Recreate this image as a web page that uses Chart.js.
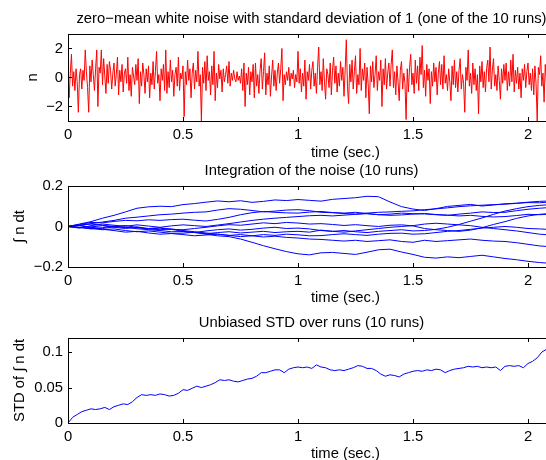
<!DOCTYPE html>
<html lang="en">
<head>
  <meta charset="UTF-8">
  <title>White noise, its integration and STD</title>
  <script src="https://cdn.jsdelivr.net/npm/chart.js"></script>
  <style>
    html, body {
      margin: 0;
      padding: 0;
      width: 546px;
      height: 460px;
      overflow: hidden;
      background: #ffffff;
    }
    canvas {
      position: absolute;
      left: 0;
    }
    #noiseChart { top: 0; }
    #integralChart { top: 160px; }
    #stdChart { top: 310px; }
  </style>
</head>
<body>

  <canvas id="noiseChart" width="623" height="165"></canvas>
  <canvas id="integralChart" width="623" height="150"></canvas>
  <canvas id="stdChart" width="623" height="160"></canvas>

  <script>
    // time axis (sec.)
    const xTicks = [0, 0.5, 1, 1.5, 2];
    const xTickLabels = ['0', '0.5', '1', '1.5', '2'];
    const xMax = 2.413;

    // top: one run of the white noise, sampled every 5 ms
    const noiseDt = 0.005;
    const noise = [
      0.1, -1.4, 0.3, 1.6, -0.6, 0.4, -0.9, 0.6, -0.3, -2.4, 0.2, 0.6, -0.8, 0.5, -0.2, 1.9, 0.4, -0.7, -2.4, 0.8,
      -0.3, 1.2, 0.2, -0.9, 0.6, 1.9, -2.0, 0.7, 0.3, 1.9, -0.5, 1.3, 0.1, -1.1, 0.9, -0.4, 1.1, 0.5, -0.8, 0.3,
      1.0, -0.6, 0.2, 1.4, -1.2, 0.5, -0.3, 0.9, -1.0, 0.3, 0.6, -0.4, 1.4, -0.9, 0.2, -1.3, 0.7, 0.1, -0.5, 0.9,
      -0.2, 1.3, -1.8, 0.4, -0.6, 1.0, 0.2, -1.1, 0.6, -0.3, 0.8, -1.4, 0.3, -0.5, 1.1, -0.8, 0.4, 1.8, -0.4, 0.2,
      -1.6, 0.6, -0.2, 0.9, -0.9, 1.9, -1.1, 0.4, -0.7, 1.2, -0.3, 0.5, -1.3, 0.2, 0.7, -0.6, 1.4, -0.9, 0.3, -0.1,
      0.8, -2.7, 0.4, -0.5, 1.2, -0.2, 0.6, -1.4, 0.3, 1.0, -0.8, 0.5, -0.3, 1.8, -0.6, 0.2, -3.0, 0.7, -0.4, 1.1,
      -0.9, 1.5, -0.2, 0.4, -1.2, 0.8, -0.5, 1.8, -1.6, 0.3, -0.7, 0.9, -0.1, 0.5, -1.0, 0.6, -0.3, 0.2, 0.8, -0.4,
      1.1, -0.6, 0.3, -0.2, 0.5, -0.1, -0.3, 0.4, -0.2, 0.1, -0.4, 0.6, -0.9, 1.0, -2.0, 0.3, -0.5, 0.7, -1.2, 0.4,
      -0.3, 0.9, -1.4, 1.0, -0.6, 0.2, -1.1, 0.5, 1.3, -0.8, 0.4, 1.7, -1.2, 0.3, -0.5, 0.8, -1.3, 0.1, 1.2, -0.6,
      0.5, -0.9, 0.3, 1.0, -0.4, 0.6, 2.0, -1.6, 0.2, -0.5, 0.4, -0.2, 0.7, -0.6, 0.3, -0.1, 0.5, -0.7, 0.2, -0.3,
      1.8, -0.4, 0.6, -1.0, 0.3, -0.6, 1.2, -1.5, 0.4, -0.2, 0.9, -0.8, 0.5, 1.1, -0.6, 0.3, -1.1, 0.7, 2.1, -0.5,
      0.4, -0.9, 1.3, -0.3, -1.5, 0.6, 0.2, -0.7, 1.0, -1.2, 0.5, 1.4, -0.4, 0.8, -1.0, 0.3, -0.6, 1.1, -0.2, 0.7,
      -1.3, 0.5, 2.6, -0.6, -1.8, 0.9, -0.3, 1.2, -0.8, 0.4, 1.5, -1.1, 0.2, -0.5, 2.0, -0.9, 0.6, -0.2, 1.0, -1.4,
      0.7, -0.4, -2.5, 0.8, -0.3, 1.1, -0.7, 0.2, 1.5, -0.9, 0.4, -0.2, 1.2, -2.0, 0.6, -0.5, 1.3, -0.8, 0.3, 1.0,
      -0.6, 0.9, 1.9, -0.7, 0.4, -1.2, 0.8, -0.3, -1.6, 0.5, 1.1, -0.8, 0.3, -0.4, -2.9, 0.6, -1.0, 0.7, 1.6, -0.5,
      0.3, -1.1, 1.2, -0.4, 0.8, -0.9, 1.4, 0.2, 2.2, -0.7, 0.5, -1.3, 0.9, -0.2, 0.6, -1.8, 0.4, -0.6, 1.0, -0.3,
      0.7, -1.2, 0.3, 1.1, -0.5, 0.9, -0.8, 1.5, -0.4, 0.2, -0.9, 0.6, -0.3, -1.6, 0.8, -0.5, 1.2, -0.7, 0.4, -1.0,
      0.5, 1.3, -0.8, 0.2, -0.4, -2.4, 0.7, -0.2, 1.9, -0.6, 0.3, -1.1, 1.0, -0.5, 0.6, -0.9, 0.2, -2.5, 0.8, -0.3,
      1.1, -0.7, 0.4, -1.0, 0.6, 1.2, -0.3, 2.1, -0.8, 0.5, 1.3, -0.6, 0.2, -0.9, 0.8, -0.2, -1.5, 0.6, -0.4, 0.9,
      -0.2, 1.0, -0.9, 0.4, -0.6, 1.2, -0.3, 1.6, -1.0, 0.5, -0.4, 0.7, -0.8, 0.3, -1.4, 0.6, -0.2, 0.9, -0.7, 0.4,
      1.0, -0.5, 0.3, -0.9, 0.6, -1.2, 0.8, -0.4, -3.0, 0.7, 0.2, 1.5, -0.6, 0.3, -1.7, 0.9, -0.3, 0.5, -0.8, 1.1,
      -0.4, 0.6, -1.1, 0.3, 0.8, -0.6, 1.2, -0.2, 0.4, -0.9, 0.5, -0.3, 0.7, -1.0, 0.2, 0.6, -0.5, 1.1, -0.7, 0.3
    ];

    // middle: integral of the noise for the 10 runs, every 50 ms
    const runDt = 0.05;
    const run1 = [0, 0.012, 0.024, 0.041, 0.055, 0.072, 0.09, 0.097, 0.1, 0.098, 0.108, 0.113, 0.12, 0.126, 0.122, 0.127, 0.119, 0.124, 0.131, 0.128, 0.133, 0.129, 0.125, 0.134, 0.138, 0.142, 0.149, 0.147, 0.121, 0.098, 0.086, 0.079, 0.088, 0.099, 0.104, 0.109, 0.101, 0.106, 0.112, 0.115, 0.12, 0.124, 0.126];
    const run2 = [0, 0.006, 0.014, 0.022, 0.03, 0.041, 0.046, 0.052, 0.058, 0.061, 0.066, 0.07, 0.072, 0.081, 0.088, 0.085, 0.079, 0.072, 0.076, 0.081, 0.083, 0.078, 0.07, 0.068, 0.064, 0.061, 0.066, 0.07, 0.072, 0.075, 0.077, 0.083, 0.087, 0.092, 0.098, 0.102, 0.105, 0.108, 0.11, 0.114, 0.118, 0.117, 0.121];
    const run3 = [0, 0.01, 0.02, 0.018, 0.025, 0.03, 0.028, 0.033, 0.03, 0.034, 0.036, 0.031, 0.027, 0.035, 0.045, 0.058, 0.068, 0.074, 0.07, 0.067, 0.066, 0.071, 0.074, 0.069, 0.066, 0.07, 0.064, 0.058, 0.061, 0.066, 0.063, 0.062, 0.058, 0.055, 0.061, 0.066, 0.072, 0.069, 0.07, 0.078, 0.085, 0.09, 0.094];
    const run4 = [0, -0.008, 0.004, 0.012, 0.006, 0.001, 0.008, 0.002, -0.004, 0.003, 0.008, 0.004, 0.0, 0.007, 0.014, 0.022, 0.03, 0.036, 0.041, 0.045, 0.049, 0.053, 0.055, 0.052, 0.056, 0.06, 0.063, 0.058, 0.055, 0.057, 0.061, 0.064, 0.059, 0.056, 0.052, 0.055, 0.05, 0.047, 0.049, 0.054, 0.06, 0.058, 0.061];
    const run5 = [0, 0.006, -0.004, -0.01, -0.002, 0.005, -0.006, -0.012, -0.008, -0.015, -0.016, -0.01, -0.004, 0.003, 0.009, 0.006, 0.012, 0.018, 0.014, 0.02, 0.017, 0.012, 0.014, 0.01, 0.005, 0.009, 0.004, 0.0, 0.006, 0.008, 0.003, -0.01, -0.016, -0.02, -0.024, -0.018, -0.006, 0.01, 0.024, 0.04, 0.052, 0.06, 0.064];
    const run6 = [0, -0.005, -0.012, -0.006, 0.002, -0.004, -0.011, -0.016, -0.02, -0.026, -0.025, -0.03, -0.022, -0.016, -0.012, -0.018, -0.014, -0.008, -0.004, -0.01, -0.008, -0.012, -0.02, -0.024, -0.028, -0.022, -0.016, -0.01, -0.004, 0.0, 0.004, 0.012, 0.016, 0.012, 0.008, 0.004, -0.004, -0.01, -0.016, -0.022, -0.03, -0.038, -0.042];
    const run7 = [0, -0.004, -0.01, -0.016, -0.012, -0.02, -0.026, -0.022, -0.028, -0.034, -0.033, -0.028, -0.036, -0.03, -0.026, -0.032, -0.028, -0.024, -0.03, -0.026, -0.024, -0.028, -0.018, -0.024, -0.02, -0.026, -0.03, -0.024, -0.02, -0.016, -0.022, -0.02, -0.014, -0.004, 0.01, 0.026, 0.042, 0.06, 0.076, 0.088, 0.098, 0.104, 0.108];
    const run8 = [0, 0.004, -0.006, -0.014, -0.02, -0.028, -0.024, -0.032, -0.038, -0.035, -0.04, -0.046, -0.042, -0.038, -0.044, -0.05, -0.046, -0.04, -0.044, -0.038, -0.041, -0.046, -0.045, -0.04, -0.036, -0.04, -0.044, -0.038, -0.034, -0.033, -0.038, -0.036, -0.03, -0.024, -0.02, -0.014, -0.008, -0.004, 0.0, -0.004, -0.01, -0.012, -0.015];
    const run9 = [0, -0.006, -0.002, 0.004, -0.004, -0.01, -0.004, -0.012, -0.016, -0.012, -0.02, -0.026, -0.032, -0.038, -0.044, -0.04, -0.046, -0.052, -0.048, -0.054, -0.057, -0.062, -0.064, -0.068, -0.072, -0.068, -0.074, -0.07, -0.066, -0.074, -0.078, -0.068, -0.074, -0.07, -0.066, -0.062, -0.068, -0.072, -0.074, -0.08, -0.088, -0.096, -0.1];
    const run10 = [0, 0.006, 0.012, 0.006, 0.0, -0.006, -0.002, -0.01, -0.006, -0.014, -0.024, -0.03, -0.038, -0.046, -0.05, -0.062, -0.078, -0.095, -0.11, -0.124, -0.135, -0.14, -0.13, -0.128, -0.133, -0.138, -0.127, -0.115, -0.112, -0.126, -0.138, -0.152, -0.156, -0.15, -0.154, -0.148, -0.142, -0.15, -0.158, -0.164, -0.172, -0.178, -0.182];
    const runs = [run1, run2, run3, run4, run5, run6, run7, run8, run9, run10];

    // bottom: unbiased STD over the runs, every 20 ms
    const stdDt = 0.02;
    const stdValues = [
      0, 0.008, 0.012, 0.016, 0.018, 0.02, 0.019, 0.02, 0.022, 0.019,
      0.023, 0.025, 0.027, 0.026, 0.03, 0.036, 0.04, 0.039, 0.04, 0.039,
      0.041, 0.04, 0.038, 0.039, 0.042, 0.047, 0.046, 0.049, 0.052, 0.05,
      0.052, 0.054, 0.057, 0.061, 0.06, 0.061, 0.059, 0.058, 0.06, 0.062,
      0.063, 0.066, 0.071, 0.071, 0.073, 0.075, 0.075, 0.071, 0.076, 0.078,
      0.079, 0.078, 0.079, 0.077, 0.082, 0.079, 0.078, 0.075, 0.074, 0.075,
      0.074, 0.076, 0.078, 0.081, 0.08, 0.077, 0.077, 0.074, 0.069, 0.066,
      0.068, 0.067, 0.065, 0.069, 0.071, 0.073, 0.074, 0.073, 0.075, 0.074,
      0.076, 0.075, 0.071, 0.074, 0.076, 0.077, 0.078, 0.08, 0.079, 0.08,
      0.078, 0.079, 0.078, 0.079, 0.074, 0.08, 0.081, 0.08, 0.081, 0.078,
      0.084, 0.087, 0.092, 0.1, 0.104, 0.106
    ];

    const noiseTicks = [-2, 0, 2];
    const noiseTickLabels = ['\u22122', '0', '2'];
    const integralTicks = [-0.2, 0, 0.2];
    const integralTickLabels = ['\u22120.2', '0', '0.2'];
    const stdTicks = [0, 0.05, 0.1];
    const stdTickLabels = ['0', '0.05', '0.1'];

    const toPoints = (vals, dt) => vals.map((v, i) => ({ x: i * dt, y: v }));

    Chart.defaults.font.family = "'Liberation Sans', Arial, Helvetica, sans-serif";
    Chart.defaults.font.size = 14.8;
    Chart.defaults.color = '#000000';

    // matlab style box with inward tick marks
    const boxPlugin = {
      id: 'box',
      afterDraw(chart) {
        const { ctx, chartArea: a, scales: { x, y } } = chart;
        const tl = 4;
        ctx.save();
        ctx.strokeStyle = '#000000';
        ctx.lineWidth = 1;
        ctx.beginPath();
        x.ticks.forEach(t => {
          const px = Math.round(x.getPixelForValue(t.value)) + 0.5;
          ctx.moveTo(px, a.bottom); ctx.lineTo(px, a.bottom - tl);
          ctx.moveTo(px, a.top); ctx.lineTo(px, a.top + tl);
        });
        y.ticks.forEach(t => {
          const py = Math.round(y.getPixelForValue(t.value)) + 0.5;
          ctx.moveTo(a.left, py); ctx.lineTo(a.left + tl, py);
          ctx.moveTo(a.right, py); ctx.lineTo(a.right - tl, py);
        });
        ctx.stroke();
        ctx.strokeRect(Math.round(a.left) + 0.5, Math.round(a.top) + 0.5,
          Math.round(a.right - a.left), Math.round(a.bottom - a.top));
        ctx.restore();
      }
    };

    function panelOptions(p) {
      return {
        responsive: false,
        animation: false,
        events: [],
        layout: { padding: 0 },
        plugins: {
          legend: { display: false },
          tooltip: { enabled: false },
          title: {
            display: true,
            text: p.title,
            font: { size: 14.8, weight: 'normal' },
            padding: { top: p.titleTop, bottom: p.titleBottom }
          }
        },
        scales: {
          x: {
            type: 'linear',
            min: 0,
            max: xMax,
            border: { display: false },
            grid: { display: false, drawTicks: false },
            afterBuildTicks: s => { s.ticks = xTicks.map(v => ({ value: v })); },
            afterFit: s => { s.height = p.xHeight; },
            ticks: { padding: 5, maxRotation: 0, autoSkip: false, callback: (v, i) => xTickLabels[i] },
            title: { display: true, text: 'time (sec.)', padding: { top: 0, bottom: p.xTitlePad } }
          },
          y: {
            min: p.yMin,
            max: p.yMax,
            border: { display: false },
            grid: { display: false, drawTicks: false },
            afterBuildTicks: s => { s.ticks = p.yTicks.map(v => ({ value: v })); },
            afterFit: s => { s.width = 68; },
            ticks: { padding: 5, autoSkip: false, callback: (v, i) => p.yLabels[i] },
            title: { display: true, text: p.yTitle, padding: { top: p.yTitlePad, bottom: 0 } }
          }
        }
      };
    }

    const lineStyle = { borderWidth: 1, pointRadius: 0, tension: 0, fill: false };

    new Chart(document.getElementById('noiseChart'), {
      type: 'line',
      data: {
        datasets: [{ ...lineStyle, data: toPoints(noise, noiseDt), borderColor: '#ff0000' }]
      },
      options: panelOptions({
        title: 'zero\u2212mean white noise with standard deviation of 1 (one of the 10 runs)',
        titleTop: 10.1, titleBottom: 6.1, xHeight: 44, xTitlePad: 3.6,
        yMin: -3, yMax: 3, yTicks: noiseTicks, yLabels: noiseTickLabels,
        yTitle: 'n', yTitlePad: 24
      }),
      plugins: [boxPlugin]
    });

    new Chart(document.getElementById('integralChart'), {
      type: 'line',
      data: {
        datasets: runs.map(r => ({ ...lineStyle, data: toPoints(r, runDt), borderColor: '#0000ff' }))
      },
      options: panelOptions({
        title: 'Integration of the noise (10 runs)',
        titleTop: 1.6, titleBottom: 6.6, xHeight: 43, xTitlePad: 3.3,
        yMin: -0.2, yMax: 0.2, yTicks: integralTicks, yLabels: integralTickLabels,
        yTitle: '\u222B n dt', yTitlePad: 11
      }),
      plugins: [boxPlugin]
    });

    new Chart(document.getElementById('stdChart'), {
      type: 'line',
      data: {
        datasets: [{ ...lineStyle, data: toPoints(stdValues, stdDt), borderColor: '#0000ff' }]
      },
      options: panelOptions({
        title: 'Unbiased STD over runs (10 runs)',
        titleTop: 3.6, titleBottom: 6.6, xHeight: 47, xTitlePad: 7.6,
        yMin: 0, yMax: 0.12, yTicks: stdTicks, yLabels: stdTickLabels,
        yTitle: 'STD of \u222B n dt', yTitlePad: 11
      }),
      plugins: [boxPlugin]
    });
  </script>

</body>
</html>
